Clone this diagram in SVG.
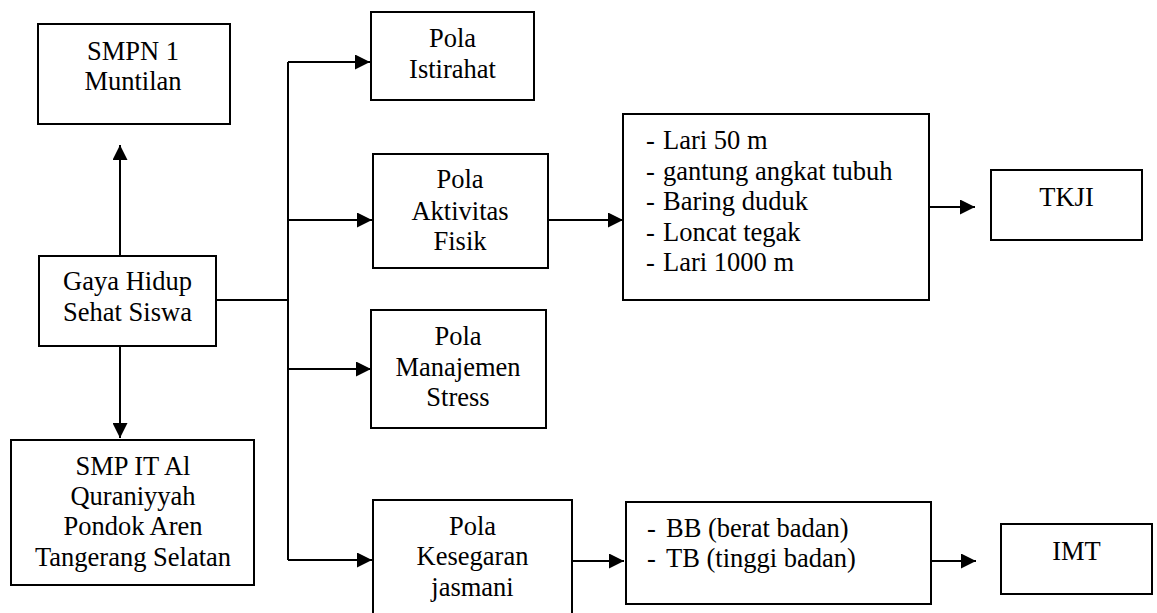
<svg xmlns="http://www.w3.org/2000/svg" width="1157" height="613" viewBox="0 0 1157 613" font-family="Liberation Serif, Times New Roman, Times, DejaVu Serif, Noto Serif, serif" font-size="26.5">
<style>
.box{fill:#fff;stroke:#000;stroke-width:2}
text{fill:#000}
.c{text-anchor:middle}
.ln{fill:none;stroke:#000;stroke-width:2}
</style>
<defs>
<marker id="ah" markerUnits="userSpaceOnUse" markerWidth="15" markerHeight="15" refX="15" refY="7.5" orient="auto">
<path d="M0,0 L15,7.5 L0,15 z" fill="#000"/>
</marker>
</defs>
<rect width="1157" height="613" fill="#fff"/>
<g id="connectors">
<path class="ln" d="M120,256 V145" marker-end="url(#ah)"/>
<path class="ln" d="M120,346 V438" marker-end="url(#ah)"/>
<path class="ln" d="M216,300 H288"/>
<path class="ln" d="M288,62 V560"/>
<path class="ln" d="M288,62 H370" marker-end="url(#ah)"/>
<path class="ln" d="M288,220 H372" marker-end="url(#ah)"/>
<path class="ln" d="M288,369 H371" marker-end="url(#ah)"/>
<path class="ln" d="M288,560 H372" marker-end="url(#ah)"/>
<path class="ln" d="M548,220 H623" marker-end="url(#ah)"/>
<path class="ln" d="M929,207 H975" marker-end="url(#ah)"/>
<path class="ln" d="M572,561 H624" marker-end="url(#ah)"/>
<path class="ln" d="M931,561 H976" marker-end="url(#ah)"/>
</g>
<g id="smpn1">
<rect class="box" x="38" y="24" width="192" height="100"/>
<text class="c" x="133" y="60">SMPN 1</text>
<text class="c" x="133" y="90">Muntilan</text>
</g>
<g id="gaya">
<rect class="box" x="39" y="256" width="177" height="90"/>
<text class="c" x="127.5" y="290">Gaya Hidup</text>
<text class="c" x="127.5" y="321">Sehat Siswa</text>
</g>
<g id="smpit">
<rect class="box" x="11" y="440" width="243" height="145"/>
<text class="c" x="133" y="475">SMP IT Al</text>
<text class="c" x="133" y="505">Quraniyyah</text>
<text class="c" x="133" y="535">Pondok Aren</text>
<text class="c" x="133" y="566">Tangerang Selatan</text>
</g>
<g id="istirahat">
<rect class="box" x="371" y="12" width="163" height="88"/>
<text class="c" x="452.5" y="47">Pola</text>
<text class="c" x="452.5" y="78">Istirahat</text>
</g>
<g id="aktivitas">
<rect class="box" x="373" y="154" width="175" height="114"/>
<text class="c" x="460" y="188">Pola</text>
<text class="c" x="460" y="220">Aktivitas</text>
<text class="c" x="460" y="250">Fisik</text>
</g>
<g id="manajemen">
<rect class="box" x="371" y="310" width="175" height="118"/>
<text class="c" x="458" y="345">Pola</text>
<text class="c" x="458" y="376">Manajemen</text>
<text class="c" x="458" y="406">Stress</text>
</g>
<g id="kesegaran">
<rect class="box" x="373" y="500" width="199" height="130"/>
<text class="c" x="472.5" y="535">Pola</text>
<text class="c" x="472.5" y="565">Kesegaran</text>
<text class="c" x="472.5" y="596">jasmani</text>
</g>
<g id="tkjilist">
<rect class="box" x="623" y="114" width="306" height="186"/>
<text x="646" y="149">-</text><text x="663" y="149">Lari 50 m</text>
<text x="646" y="180">-</text><text x="663" y="180">gantung angkat tubuh</text>
<text x="646" y="210">-</text><text x="663" y="210">Baring duduk</text>
<text x="646" y="241">-</text><text x="663" y="241">Loncat tegak</text>
<text x="646" y="271">-</text><text x="663" y="271">Lari 1000 m</text>
</g>
<g id="tkji">
<rect class="box" x="991" y="170" width="151" height="70"/>
<text class="c" x="1066.5" y="206">TKJI</text>
</g>
<g id="imtlist">
<rect class="box" x="626" y="502" width="305" height="102"/>
<text x="647" y="537">-</text><text x="666" y="537">BB (berat badan)</text>
<text x="647" y="567">-</text><text x="666" y="567">TB (tinggi badan)</text>
</g>
<g id="imt">
<rect class="box" x="1001" y="524" width="151" height="70"/>
<text class="c" x="1076.5" y="560">IMT</text>
</g>
</svg>
